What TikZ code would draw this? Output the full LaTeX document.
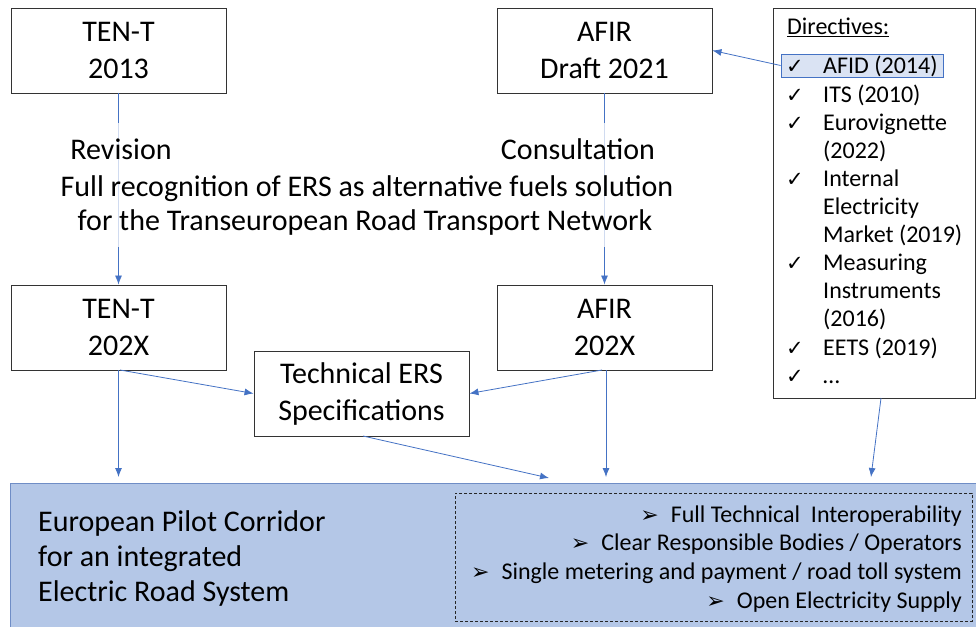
\documentclass[tikz,border=0pt]{standalone}
\usepackage{fontspec}
\setmainfont{Carlito}
\newfontfamily\symfont{DejaVu Sans}
\usepackage{xcolor}
\usetikzlibrary{arrows.meta}
\definecolor{linkblue}{HTML}{4472C4}
\definecolor{corrfill}{HTML}{B4C7E7}
\definecolor{corrline}{HTML}{6F8DC6}
\definecolor{markfill}{HTML}{DAE3F3}

\begin{document}
\begin{tikzpicture}[x=1pt,y=-1pt,
  font=\fontsize{30}{37}\selectfont,
  actbox/.style={draw=black!80,line width=0.9pt,align=center,inner sep=0pt,minimum width=215pt,minimum height=85pt},
  lbl/.style={inner sep=0pt,anchor=base},
  dirtext/.style={inner sep=0pt,anchor=base west,align=left,font=\fontsize{24}{28.1}\selectfont},
  chkmark/.style={inner sep=0pt,anchor=base,font=\symfont\fontsize{21}{22}\selectfont},
  flow/.style={draw=linkblue,line width=0.8pt,-{Latex[length=9pt,width=7pt]}}]
\useasboundingbox (0,0) rectangle (976,626);

\node [actbox] (tent13) at (118.5,50.5) {TEN-T\\2013};
\node [actbox] (afir21) at (604.5,50.5) {AFIR\\Draft 2021};
\node [actbox] (tent2x) at (118.5,327.5) {TEN-T\\202X};
\node [actbox] (afir2x) at (604.5,327.5) {AFIR\\202X};
\node [actbox] (techspec) at (361.5,393.5) {Technical ERS\\Specifications};

\draw [flow] (tent13.south) -- (tent2x.north);
\draw [flow] (afir21.south) -- (afir2x.north);

\fill [white,opacity=0.75] (55,123) rectangle (685,247);
\node [lbl] (rev) at (121,159) {Revision};
\node [lbl] (cons) at (578,159) {Consultation};
\node [lbl] (recog1) at (367,196) {Full recognition of ERS as alternative fuels solution};
\node [lbl] (recog2) at (365,230) {for the Transeuropean Road Transport Network};

\draw [draw=black!80,line width=0.9pt] (773,8) rectangle (975,398);
\node [dirtext] (dirs) at (787,35) {\underline{Directives:}};
\node [draw=linkblue,fill=markfill,line width=0.8pt,minimum width=162pt,minimum height=23pt,inner sep=0pt] (afid) at (862,65.5) {};
\node [chkmark] (c1) at (795,74) {✓};
\node [dirtext] (d1) at (823,74) {AFID (2014)};
\node [chkmark] (c2) at (795,102.1) {✓};
\node [dirtext] (d2) at (823,102.1) {ITS (2010)};
\node [chkmark] (c3) at (795,130.2) {✓};
\node [dirtext] (d3) at (823,158.3) {Eurovignette\\(2022)};
\node [chkmark] (c4) at (795,186.4) {✓};
\node [dirtext] (d4) at (823,242.6) {Internal\\Electricity\\Market (2019)};
\node [chkmark] (c5) at (795,270.7) {✓};
\node [dirtext] (d5) at (823,326.9) {Measuring\\Instruments\\(2016)};
\node [chkmark] (c6) at (795,355) {✓};
\node [dirtext] (d6) at (823,355) {EETS (2019)};
\node [chkmark] (c7) at (795,383.1) {✓};
\node [dirtext] (d7) at (823,383.1) {\dots};

\draw [flow] (afid.west) -- (afir21.east);

\node [draw=corrline,fill=corrfill,line width=1pt,minimum width=970pt,minimum height=146pt,inner sep=0pt] (corr) at (495,556) {};
\node [draw=black!85,dashed,dash pattern=on 3pt off 2pt,line width=0.8pt,minimum width=517pt,minimum height=128pt,inner sep=0pt] (goals) at (713.5,557) {};
\node [inner sep=0pt,anchor=base west,align=left,font=\fontsize{30}{35}\selectfont] (epc) at (38,601) {European Pilot Corridor\\for an integrated\\Electric Road System};
\node [inner sep=0pt,anchor=base east,align=right,font=\fontsize{24}{28.7}\selectfont] (goaltext) at (962,608.1)
  {{\symfont\fontsize{22}{22}\selectfont ➢}\hspace{12pt}Full Technical\ \ Interoperability\\
   {\symfont\fontsize{22}{22}\selectfont ➢}\hspace{12pt}Clear Responsible Bodies / Operators\\
   {\symfont\fontsize{22}{22}\selectfont ➢}\hspace{12pt}Single metering and payment / road toll system\\
   {\symfont\fontsize{22}{22}\selectfont ➢}\hspace{12pt}Open Electricity Supply};

\coordinate (inT) at (118.5,477);
\coordinate (inS) at (549,478);
\coordinate (inA) at (606,477);
\coordinate (inD) at (871,477);
\coordinate (dirfoot) at (881,398);

\draw [flow] (118.5,370) -- (inT);
\draw [flow] (120,370) -- (techspec.west);
\draw [flow] (602,370) -- (techspec.east);
\draw [flow] (606,370) -- (inA);
\draw [flow] (363,436) -- (inS);
\draw [flow] (dirfoot) -- (inD);
\end{tikzpicture}
\end{document}
